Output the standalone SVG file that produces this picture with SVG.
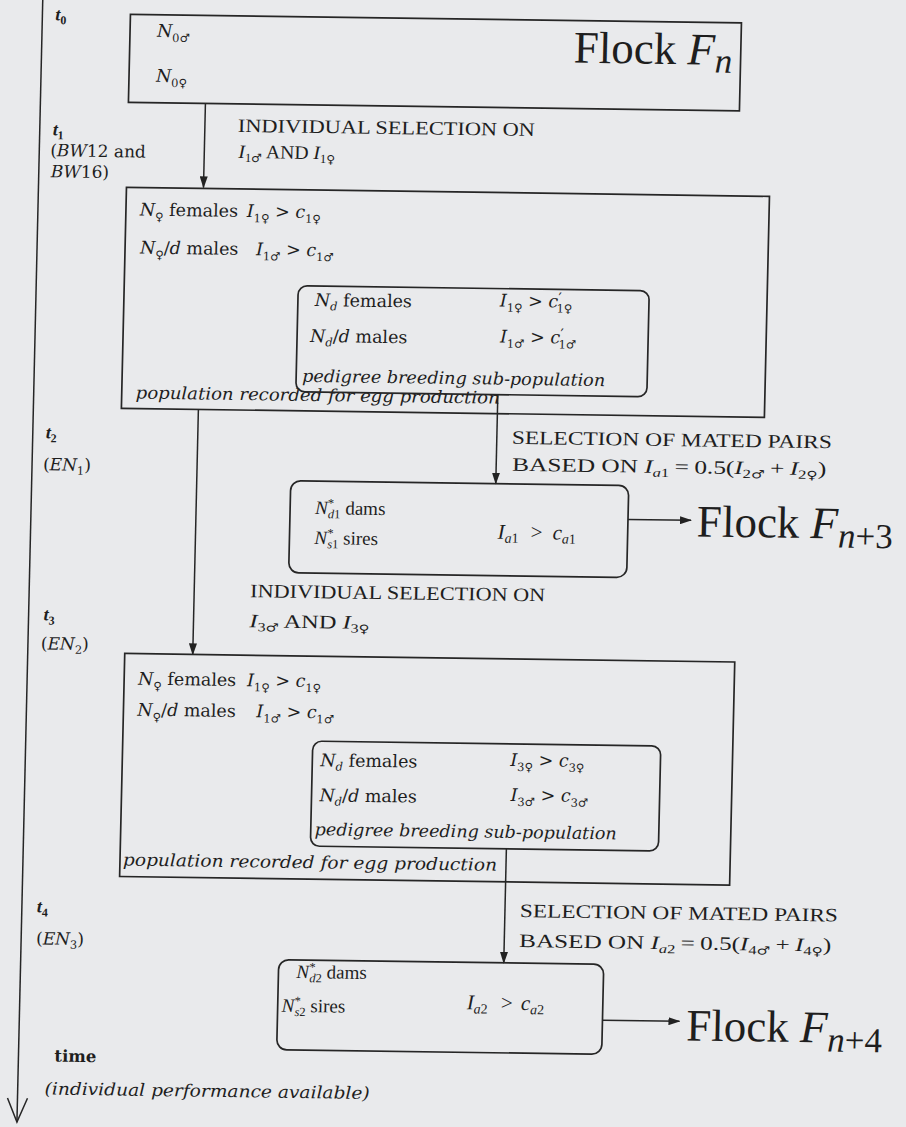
<svg xmlns="http://www.w3.org/2000/svg" width="906" height="1127" viewBox="0 0 906 1127">
<defs>
<marker id="ah" markerWidth="12" markerHeight="8" refX="11" refY="4" orient="auto" markerUnits="userSpaceOnUse">
<path d="M0,0 L12,4 L0,8 Z" fill="#222"/>
</marker>
<style>
.bx{fill:none;stroke:#262626;stroke-width:1.7}
.ln{fill:none;stroke:#262626;stroke-width:1.5}
.b{font-family:"DejaVu Serif",serif;font-size:17.5px;fill:#1e1e1e}
.i{font-style:italic}
.sb{font-size:11.5px}
.pr{font-size:15px}
.g{font-family:"DejaVu Sans",sans-serif;font-size:11.5px;font-style:normal}
.it{font-family:"DejaVu Serif",serif;font-style:italic;font-size:17px;fill:#1e1e1e}
.cm{font-family:"Liberation Serif",serif;font-size:19px;fill:#1e1e1e}
.cs{font-size:12.5px}
.ca{font-family:"Liberation Serif",serif;font-size:21px;fill:#1e1e1e}
.cas{font-size:14px}
.fl{font-family:"Liberation Serif",serif;font-size:45px;fill:#1e1e1e}
.fs{font-size:35px;font-style:italic}
.t{font-family:"Liberation Serif",serif;font-weight:bold;font-style:italic;font-size:18px;fill:#1e1e1e}
.ts{font-size:12px;font-style:normal}
.p{font-family:"DejaVu Serif",serif;font-size:17px;fill:#1e1e1e}
.tm{font-family:"DejaVu Serif",serif;font-weight:bold;font-size:16.5px;fill:#1e1e1e}
</style>
</defs>
<rect width="906" height="1127" fill="#e9eaec"/>
<g transform="matrix(1,0.014,-0.023,1,12.88,-6.3)">

<g id="time-axis">
<line class="ln" x1="30" y1="-8" x2="30" y2="1128"/>
<polyline class="ln" points="20,1104 30,1128 40,1104"/>
<text class="t" x="43" y="26">t<tspan class="ts" dy="4">0</tspan></text>
<text class="t" x="43" y="141">t<tspan class="ts" dy="4">1</tspan></text>
<text class="p" x="41" y="162">(<tspan class="i">BW</tspan>12 and</text>
<text class="p" x="42" y="183"><tspan class="i">BW</tspan>16)</text>
<text class="t" x="43" y="444">t<tspan class="ts" dy="4">2</tspan></text>
<text class="p" x="41" y="476">(<tspan class="i">EN</tspan><tspan class="sb" dy="4">1</tspan><tspan dy="-4">)</tspan></text>
<text class="t" x="45" y="626">t<tspan class="ts" dy="4">3</tspan></text>
<text class="p" x="43" y="655">(<tspan class="i">EN</tspan><tspan class="sb" dy="4">2</tspan><tspan dy="-4">)</tspan></text>
<text class="t" x="45" y="918">t<tspan class="ts" dy="4">4</tspan></text>
<text class="p" x="45" y="950">(<tspan class="i">EN</tspan><tspan class="sb" dy="4">3</tspan><tspan dy="-4">)</tspan></text>
<text class="tm" x="66" y="1067">time</text>
<text class="it" x="57" y="1100" textLength="325" lengthAdjust="spacingAndGlyphs">(individual performance available)</text>
</g>

<g id="connectors">
<line class="ln" x1="195" y1="107" x2="195" y2="191" marker-end="url(#ah)"/>
<line class="ln" x1="494" y1="394" x2="494" y2="483" marker-end="url(#ah)"/>
<line class="ln" x1="195" y1="413" x2="195" y2="658" marker-end="url(#ah)"/>
<line class="ln" x1="627" y1="517" x2="690" y2="517" marker-end="url(#ah)"/>
<line class="ln" x1="513" y1="848" x2="513" y2="962" marker-end="url(#ah)"/>
<line class="ln" x1="613" y1="1018" x2="690" y2="1018" marker-end="url(#ah)"/>
<text class="cm" x="228" y="135" textLength="297" lengthAdjust="spacingAndGlyphs">INDIVIDUAL SELECTION ON</text>
<text class="cm" x="229" y="161" textLength="97" lengthAdjust="spacingAndGlyphs"><tspan class="i">I</tspan><tspan class="cs" dy="4">1</tspan><tspan class="g">♂</tspan><tspan dy="-4"> AND </tspan><tspan class="i">I</tspan><tspan class="cs" dy="4">1</tspan><tspan class="g">♀</tspan></text>
<text class="cm" x="509" y="443" textLength="320" lengthAdjust="spacingAndGlyphs">SELECTION OF MATED PAIRS</text>
<text class="cm" x="510" y="470" textLength="314" lengthAdjust="spacingAndGlyphs">BASED ON <tspan class="i">I</tspan><tspan class="cs i" dy="4">a</tspan><tspan class="cs">1</tspan><tspan dy="-4" dx="4">=</tspan><tspan dx="4">0.5(</tspan><tspan class="i">I</tspan><tspan class="cs" dy="4">2</tspan><tspan class="g">♂</tspan><tspan dy="-4" dx="4">+</tspan><tspan class="i" dx="4">I</tspan><tspan class="cs" dy="4">2</tspan><tspan class="g">♀</tspan><tspan dy="-4">)</tspan></text>
<text class="cm" x="251" y="600" textLength="295" lengthAdjust="spacingAndGlyphs">INDIVIDUAL SELECTION ON</text>
<text class="cm" x="251" y="630" textLength="120" lengthAdjust="spacingAndGlyphs"><tspan class="i">I</tspan><tspan class="cs" dy="4">3</tspan><tspan class="g">♂</tspan><tspan dy="-4"> AND </tspan><tspan class="i">I</tspan><tspan class="cs" dy="4">3</tspan><tspan class="g">♀</tspan></text>
<text class="cm" x="528" y="916" textLength="318" lengthAdjust="spacingAndGlyphs">SELECTION OF MATED PAIRS</text>
<text class="cm" x="528" y="946" textLength="312" lengthAdjust="spacingAndGlyphs">BASED ON <tspan class="i">I</tspan><tspan class="cs i" dy="4">a</tspan><tspan class="cs">2</tspan><tspan dy="-4" dx="4">=</tspan><tspan dx="4">0.5(</tspan><tspan class="i">I</tspan><tspan class="cs" dy="4">4</tspan><tspan class="g">♂</tspan><tspan dy="-4" dx="4">+</tspan><tspan class="i" dx="4">I</tspan><tspan class="cs" dy="4">4</tspan><tspan class="g">♀</tspan><tspan dy="-4">)</tspan></text>
</g>

<g id="flock-fn">
<rect class="bx" x="118" y="19" width="611" height="88"/>
<text class="b" x="145" y="41"><tspan class="i">N</tspan><tspan class="sb" dy="5">0♂</tspan></text>
<text class="b" x="145" y="86"><tspan class="i">N</tspan><tspan class="sb" dy="5">0♀</tspan></text>
<text class="fl" x="562" y="61">Flock <tspan class="i">F</tspan><tspan class="fs" dy="8">n</tspan></text>
</g>

<g id="population-1">
<rect class="bx" x="118" y="192" width="643" height="221"/>
<text class="b" x="132" y="220"><tspan class="i">N</tspan><tspan class="sb" dy="5">♀</tspan><tspan dy="-5"> females</tspan></text>
<text class="b" x="239" y="220"><tspan class="i">I</tspan><tspan class="sb" dy="5">1♀</tspan><tspan dy="-5"> &gt; </tspan><tspan class="i">c</tspan><tspan class="sb" dy="5">1♀</tspan></text>
<text class="b" x="133" y="258"><tspan class="i">N</tspan><tspan class="sb" dy="5">♀</tspan><tspan dy="-5">/</tspan><tspan class="i">d</tspan> males</text>
<text class="b" x="249" y="258"><tspan class="i">I</tspan><tspan class="sb" dy="5">1♂</tspan><tspan dy="-5"> &gt; </tspan><tspan class="i">c</tspan><tspan class="sb" dy="5">1♂</tspan></text>
<text class="it" x="132" y="403" textLength="364" lengthAdjust="spacingAndGlyphs">population recorded for egg production</text>
</g>

<g id="pedigree-1">
<rect class="bx" x="292" y="288" width="351" height="106" rx="9"/>
<text class="b" x="309" y="308"><tspan class="i">N</tspan><tspan class="sb i" dy="4">d</tspan><tspan dy="-4"> females</tspan></text>
<text class="b" x="494" y="306"><tspan class="i">I</tspan><tspan class="sb" dy="5">1♀</tspan><tspan dy="-5"> &gt; </tspan><tspan class="i">c</tspan><tspan class="pr" dy="-4">′</tspan><tspan class="sb" dx="-5" dy="9">1♀</tspan></text>
<text class="b" x="305" y="344"><tspan class="i">N</tspan><tspan class="sb i" dy="4">d</tspan><tspan dy="-4">/</tspan><tspan class="i">d</tspan> males</text>
<text class="b" x="495" y="342"><tspan class="i">I</tspan><tspan class="sb" dy="5">1♂</tspan><tspan dy="-5"> &gt; </tspan><tspan class="i">c</tspan><tspan class="pr" dy="-4">′</tspan><tspan class="sb" dx="-5" dy="9">1♂</tspan></text>
<text class="it" x="298" y="384" textLength="303" lengthAdjust="spacingAndGlyphs">pedigree breeding sub-population</text>
</g>

<g id="mated-pairs-1">
<rect class="bx" x="289" y="483" width="338" height="92" rx="10"/>
<text class="cm" x="314" y="516"><tspan class="i">N</tspan><tspan class="cs" dy="-7">*</tspan><tspan class="cs" dx="-6" dy="11"><tspan class="i">d</tspan>1</tspan><tspan dy="-4"> dams</tspan></text>
<text class="cm" x="314" y="546"><tspan class="i">N</tspan><tspan class="cs" dy="-7">*</tspan><tspan class="cs" dx="-6" dy="11"><tspan class="i">s</tspan>1</tspan><tspan dy="-4"> sires</tspan></text>
<text class="ca" x="497" y="538"><tspan class="i">I</tspan><tspan class="cas i" dy="4">a</tspan><tspan class="cas">1</tspan></text>
<text class="ca" x="530" y="538">&gt;</text>
<text class="ca" x="552" y="538"><tspan class="i">c</tspan><tspan class="cas i" dy="4">a</tspan><tspan class="cas">1</tspan></text>
</g>

<g id="flock-fn3">
<text class="fl" x="696" y="533">Flock <tspan class="i">F</tspan><tspan class="fs" dy="9">n</tspan><tspan class="fs" style="font-style:normal">+3</tspan></text>
</g>

<g id="population-2">
<rect class="bx" x="127" y="658" width="610" height="223"/>
<text class="b" x="141" y="689"><tspan class="i">N</tspan><tspan class="sb" dy="5">♀</tspan><tspan dy="-5"> females</tspan></text>
<text class="b" x="250" y="689"><tspan class="i">I</tspan><tspan class="sb" dy="5">1♀</tspan><tspan dy="-5"> &gt; </tspan><tspan class="i">c</tspan><tspan class="sb" dy="5">1♀</tspan></text>
<text class="b" x="141" y="720"><tspan class="i">N</tspan><tspan class="sb" dy="5">♀</tspan><tspan dy="-5">/</tspan><tspan class="i">d</tspan> males</text>
<text class="b" x="260" y="720"><tspan class="i">I</tspan><tspan class="sb" dy="5">1♂</tspan><tspan dy="-5"> &gt; </tspan><tspan class="i">c</tspan><tspan class="sb" dy="5">1♂</tspan></text>
<text class="it" x="130" y="870" textLength="374" lengthAdjust="spacingAndGlyphs">population recorded for egg production</text>
</g>

<g id="pedigree-2">
<rect class="bx" x="317" y="743" width="348" height="105" rx="9"/>
<text class="b" x="325" y="768"><tspan class="i">N</tspan><tspan class="sb i" dy="4">d</tspan><tspan dy="-4"> females</tspan></text>
<text class="b" x="515" y="765"><tspan class="i">I</tspan><tspan class="sb" dy="5">3♀</tspan><tspan dy="-5"> &gt; </tspan><tspan class="i">c</tspan><tspan class="sb" dy="5">3♀</tspan></text>
<text class="b" x="325" y="803"><tspan class="i">N</tspan><tspan class="sb i" dy="4">d</tspan><tspan dy="-4">/</tspan><tspan class="i">d</tspan> males</text>
<text class="b" x="516" y="800"><tspan class="i">I</tspan><tspan class="sb" dy="5">3♂</tspan><tspan dy="-5"> &gt; </tspan><tspan class="i">c</tspan><tspan class="sb" dy="5">3♂</tspan></text>
<text class="it" x="321" y="837" textLength="302" lengthAdjust="spacingAndGlyphs">pedigree breeding sub-population</text>
</g>

<g id="mated-pairs-2">
<rect class="bx" x="288" y="962" width="325" height="90" rx="10"/>
<text class="cm" x="306" y="980"><tspan class="i">N</tspan><tspan class="cs" dy="-7">*</tspan><tspan class="cs" dx="-6" dy="11"><tspan class="i">d</tspan>2</tspan><tspan dy="-4"> dams</tspan></text>
<text class="cm" x="292" y="1014"><tspan class="i">N</tspan><tspan class="cs" dy="-7">*</tspan><tspan class="cs" dx="-6" dy="11"><tspan class="i">s</tspan>2</tspan><tspan dy="-4"> sires</tspan></text>
<text class="ca" x="477" y="1009"><tspan class="i">I</tspan><tspan class="cas i" dy="4">a</tspan><tspan class="cas">2</tspan></text>
<text class="ca" x="511" y="1009">&gt;</text>
<text class="ca" x="531" y="1009"><tspan class="i">c</tspan><tspan class="cas i" dy="4">a</tspan><tspan class="cas">2</tspan></text>
</g>

<g id="flock-fn4">
<text class="fl" x="697" y="1037">Flock <tspan class="i">F</tspan><tspan class="fs" dy="9">n</tspan><tspan class="fs" style="font-style:normal">+4</tspan></text>
</g>

</g>
</svg>
